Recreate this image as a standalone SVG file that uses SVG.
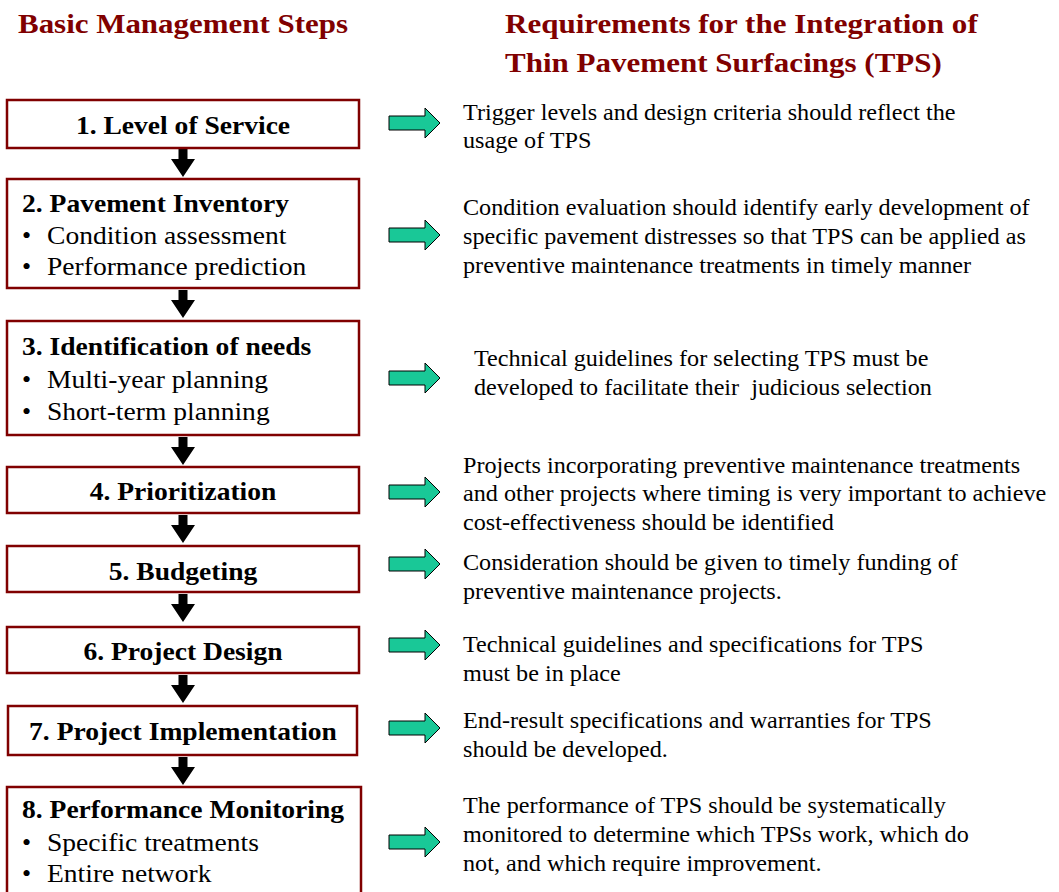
<svg xmlns="http://www.w3.org/2000/svg" width="1059" height="892" viewBox="0 0 1059 892">
<defs>
<style>
.title{font-family:"Liberation Serif","Times New Roman",serif;font-weight:bold;font-size:28px;fill:#800000}
.box{fill:#ffffff;stroke:#800000;stroke-width:2.5}
.head{font-family:"Liberation Serif","Times New Roman",serif;font-weight:bold;font-size:26px;fill:#000}
.item{font-family:"Liberation Serif","Times New Roman",serif;font-size:26px;fill:#000}
.req{font-family:"Liberation Serif","Times New Roman",serif;font-size:24px;fill:#000}
.garrow{fill:#19c897;stroke:#000;stroke-width:1}
.darrow{fill:#000}
</style>
<path id="ga" d="M0,-7 L36,-7 L36,-15 L51,0 L36,15 L36,7 L0,7 Z"/>
<path id="da" d="M-4.5,0 L4.5,0 L4.5,10 L12,10 L0,28 L-12,10 L-4.5,10 Z"/>
</defs>
<rect width="1059" height="892" fill="#fff"/>
<g id="titles">
<text class="title" transform="translate(18,33) scale(1.105,1)">Basic Management Steps</text>
<text class="title" transform="translate(505,33) scale(1.108,1)">Requirements for the Integration of</text>
<text class="title" transform="translate(505,72) scale(1.108,1)">Thin Pavement Surfacings (TPS)</text>
</g>
<g id="connectors">
<use href="#da" class="darrow" x="183" y="149"/>
<use href="#da" class="darrow" x="183" y="290"/>
<use href="#da" class="darrow" x="183" y="437"/>
<use href="#da" class="darrow" x="183" y="515"/>
<use href="#da" class="darrow" x="183" y="594"/>
<use href="#da" class="darrow" x="183" y="675"/>
<use href="#da" class="darrow" x="183" y="757"/>
<use href="#ga" class="garrow" x="389" y="123"/>
<use href="#ga" class="garrow" x="389" y="235"/>
<use href="#ga" class="garrow" x="389" y="378"/>
<use href="#ga" class="garrow" x="389" y="492"/>
<use href="#ga" class="garrow" x="389" y="564"/>
<use href="#ga" class="garrow" x="389" y="645"/>
<use href="#ga" class="garrow" x="389" y="728"/>
<use href="#ga" class="garrow" x="389" y="842"/>
</g>
<g id="step1">
<rect class="box" x="7" y="100" width="352" height="48"/>
<text class="head" text-anchor="middle" transform="translate(183,134) scale(1.06,1)">1. Level of Service</text>
</g>
<g id="step2">
<rect class="box" x="7" y="179" width="352" height="109"/>
<text class="head" transform="translate(22,212) scale(1.06,1)">2. Pavement Inventory</text>
<text class="item" x="22" y="244">•</text><text class="item" transform="translate(47,244) scale(1.06,1)">Condition assessment</text>
<text class="item" x="22" y="275">•</text><text class="item" transform="translate(47,275) scale(1.06,1)">Performance prediction</text>
</g>
<g id="step3">
<rect class="box" x="7" y="321" width="352" height="114"/>
<text class="head" transform="translate(22,355) scale(1.06,1)">3. Identification of needs</text>
<text class="item" x="22" y="388">•</text><text class="item" transform="translate(47,388) scale(1.06,1)">Multi-year planning</text>
<text class="item" x="22" y="420">•</text><text class="item" transform="translate(47,420) scale(1.06,1)">Short-term planning</text>
</g>
<g id="step4">
<rect class="box" x="7" y="467" width="352" height="46"/>
<text class="head" text-anchor="middle" transform="translate(183,500) scale(1.06,1)">4. Prioritization</text>
</g>
<g id="step5">
<rect class="box" x="7" y="546" width="352" height="46"/>
<text class="head" text-anchor="middle" transform="translate(183,580) scale(1.06,1)">5. Budgeting</text>
</g>
<g id="step6">
<rect class="box" x="7" y="627" width="352" height="46"/>
<text class="head" text-anchor="middle" transform="translate(183,660) scale(1.06,1)">6. Project Design</text>
</g>
<g id="step7">
<rect class="box" x="8" y="706" width="349" height="49"/>
<text class="head" text-anchor="middle" transform="translate(183,740) scale(1.06,1)">7. Project Implementation</text>
</g>
<g id="step8">
<rect class="box" x="7" y="787" width="354" height="110"/>
<text class="head" transform="translate(22,818) scale(1.06,1)">8. Performance Monitoring</text>
<text class="item" x="22" y="851">•</text><text class="item" transform="translate(47,851) scale(1.06,1)">Specific treatments</text>
<text class="item" x="22" y="882">•</text><text class="item" transform="translate(47,882) scale(1.06,1)">Entire network</text>
</g>
<g id="req1">
<text class="req" transform="translate(463,120) scale(1.008,1)">Trigger levels and design criteria should reflect the</text>
<text class="req" transform="translate(463,148) scale(1.008,1)">usage of TPS</text>
</g>
<g id="req2">
<text class="req" transform="translate(463,215) scale(1.008,1)">Condition evaluation should identify early development of</text>
<text class="req" transform="translate(463,244) scale(1.008,1)">specific pavement distresses so that TPS can be applied as</text>
<text class="req" transform="translate(463,273) scale(1.008,1)">preventive maintenance treatments in timely manner</text>
</g>
<g id="req3">
<text class="req" transform="translate(474,366) scale(1.008,1)">Technical guidelines for selecting TPS must be</text>
<text class="req" transform="translate(474,395) scale(1.008,1)" xml:space="preserve">developed to facilitate their  judicious selection</text>
</g>
<g id="req4">
<text class="req" transform="translate(463,473) scale(1.008,1)">Projects incorporating preventive maintenance treatments</text>
<text class="req" transform="translate(463,501) scale(1.008,1)">and other projects where timing is very important to achieve</text>
<text class="req" transform="translate(463,530) scale(1.008,1)">cost-effectiveness should be identified</text>
</g>
<g id="req5">
<text class="req" transform="translate(463,570) scale(1.008,1)">Consideration should be given to timely funding of</text>
<text class="req" transform="translate(463,599) scale(1.008,1)">preventive maintenance projects.</text>
</g>
<g id="req6">
<text class="req" transform="translate(463,652) scale(1.008,1)">Technical guidelines and specifications for TPS</text>
<text class="req" transform="translate(463,681) scale(1.008,1)">must be in place</text>
</g>
<g id="req7">
<text class="req" transform="translate(463,728) scale(1.008,1)">End-result specifications and warranties for TPS</text>
<text class="req" transform="translate(463,757) scale(1.008,1)">should be developed.</text>
</g>
<g id="req8">
<text class="req" transform="translate(463,813) scale(1.008,1)">The performance of TPS should be systematically</text>
<text class="req" transform="translate(463,842) scale(1.008,1)">monitored to determine which TPSs work, which do</text>
<text class="req" transform="translate(463,871) scale(1.008,1)">not, and which require improvement.</text>
</g>
</svg>
